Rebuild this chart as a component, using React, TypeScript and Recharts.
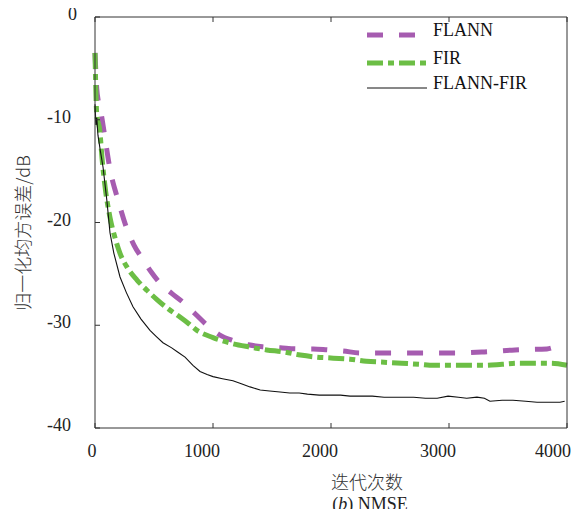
import { Line, LineChart, XAxis, YAxis } from "recharts";

const X_TICKS = [0, 1000, 2000, 3000, 4000];
const Y_TICKS = [-40, -30, -20, -10, 0];
const X_DOMAIN = [0, 4000];
const Y_DOMAIN = [-40, 0];

const FLANN_ITER = [
  0, 15, 30, 55, 85, 127, 195, 270, 330, 400, 475, 550, 650, 750, 850, 950,
  1050, 1170, 1300, 1420, 1570, 1710, 1850, 1975, 2100, 2250, 2500, 2770,
  3050, 3300, 3560, 3830, 3900,
];
const FLANN_DB = [
  -3.5, -7, -8.3, -9.6, -11.8, -14.8, -17.8, -20.6, -22.2, -23.5, -24.8,
  -25.9, -26.9, -27.8, -28.9, -30.0, -30.9, -31.5, -31.9, -32.1, -32.2, -32.3,
  -32.3, -32.4, -32.5, -32.7, -32.7, -32.7, -32.7, -32.6, -32.4, -32.3, -32.1,
];

const FIR_ITER = [
  0, 15, 40, 60, 85, 127, 170, 212, 280, 356, 440, 525, 620, 720, 800, 864,
  1000, 1170, 1300, 1455, 1600, 1740, 1880, 2020, 2160, 2300, 2450, 2600,
  2750, 2870, 3000, 3150, 3300, 3450, 3580, 3720, 3860, 4000,
];
const FIR_DB = [
  -3.5, -9.5, -11, -13.8, -16.5, -19.5, -21.5, -23, -24.5, -25.6, -26.6,
  -27.5, -28.4, -29.2, -29.9, -30.5, -31.2, -31.8, -32.1, -32.4, -32.6, -32.9,
  -33.1, -33.2, -33.3, -33.5, -33.6, -33.7, -33.8, -33.9, -33.9, -33.9, -33.9,
  -33.8, -33.7, -33.7, -33.7, -33.9,
];

const HYBRID_ITER = [
  0, 8, 15, 25, 45, 68, 100, 127, 160, 212, 265, 322, 390, 466, 520, 576, 650,
  700, 763, 830, 890, 950, 1000, 1080, 1169, 1240, 1314, 1400, 1480, 1568,
  1650, 1730, 1800, 1900, 1992, 2080, 2161, 2250, 2350, 2450, 2585, 2700,
  2800, 2900, 2992, 3080, 3150, 3237, 3300, 3347, 3450, 3542, 3650, 3746,
  3850, 3941, 3980,
];
const HYBRID_DB = [
  -8.5, -10.5, -9.8, -11.5, -13, -14.6, -17.8, -21, -23, -25.3, -26.8, -28.2,
  -29.4, -30.5, -31.1, -31.7, -32.2, -32.6, -33.1, -33.9, -34.5, -34.8, -35.0,
  -35.2, -35.4, -35.7, -36.0, -36.3, -36.4, -36.5, -36.6, -36.6, -36.7, -36.8,
  -36.8, -36.8, -36.9, -36.9, -36.9, -37.0, -37.0, -37.0, -37.1, -37.1, -36.9,
  -37.0, -37.1, -37.0, -37.1, -37.4, -37.3, -37.3, -37.4, -37.5, -37.5, -37.5,
  -37.4,
];

// one table keyed by iteration, gaps bridged with connectNulls
function buildTable() {
  const rows = new Map<number, any>();
  const add = (xs: number[], ys: number[], key: string) =>
    xs.forEach((x, i) => {
      const row = rows.get(x) || { x };
      row[key] = ys[i];
      rows.set(x, row);
    });
  add(FLANN_ITER, FLANN_DB, "flann");
  add(FIR_ITER, FIR_DB, "fir");
  add(HYBRID_ITER, HYBRID_DB, "hybrid");
  return [...rows.values()].sort((a, b) => a.x - b.x);
}

const PURPLE = "#A65CB0";
const GREEN = "#6CBE45";
const DARK = "#111";
const AXIS = "#333";
const SERIF = "'Liberation Serif', 'Times New Roman', serif";
const CJK = "'Noto Sans CJK SC', sans-serif";

const FLANN_DASH = "16 16";
const FIR_DASH = "16 5 6 5";

const W = 580;
const H = 517;

function XTick({ x, y, payload }: any) {
  const dx = payload.value === 0 ? -3 : -11;
  return (
    <text x={x + dx} y={y + 17} textAnchor="middle" fontFamily={SERIF} fontSize={18} fill="#222">
      {payload.value}
    </text>
  );
}

function YTick({ x, y, payload }: any) {
  const dx = payload.value === 0 ? 6 : 0;
  return (
    <text x={x + dx} y={y + 3} textAnchor="end" fontFamily={SERIF} fontSize={18} fill="#222">
      {payload.value}
    </text>
  );
}

// keeps tick marks on the mirrored top/right axes but draws no label
function NoLabel() {
  return <g />;
}

const legendItems = [
  { name: "FLANN", color: PURPLE, width: 5, dash: FLANN_DASH, y: 35 },
  { name: "FIR", color: GREEN, width: 5, dash: FIR_DASH, y: 63 },
  { name: "FLANN-FIR", color: DARK, width: 1, dash: undefined, y: 88 },
];

export default function App() {
  const data = buildTable();

  return (
    <div style={{ margin: -8, width: W, height: H, position: "relative" }}>
      <LineChart
        width={W}
        height={H}
        data={data}
        margin={{ top: 17, right: 13, bottom: 59, left: 35 }}
      >
        <XAxis
          dataKey="x"
          type="number"
          domain={X_DOMAIN}
          ticks={X_TICKS}
          height={30}
          tickSize={-5}
          tickMargin={17}
          tick={<XTick />}
          stroke={AXIS}
        />
        <XAxis
          xAxisId="top"
          orientation="top"
          dataKey="x"
          type="number"
          domain={X_DOMAIN}
          ticks={X_TICKS}
          mirror
          tickSize={5}
          tick={<NoLabel />}
          stroke={AXIS}
        />
        <YAxis
          type="number"
          domain={Y_DOMAIN}
          ticks={Y_TICKS}
          width={60}
          tickSize={-5}
          tickMargin={29}
          tick={<YTick />}
          stroke={AXIS}
        />
        <YAxis
          yAxisId="right"
          orientation="right"
          type="number"
          domain={Y_DOMAIN}
          ticks={Y_TICKS}
          mirror
          tickSize={5}
          tick={<NoLabel />}
          stroke={AXIS}
        />
        <Line
          dataKey="flann"
          type="monotone"
          stroke={PURPLE}
          strokeWidth={5}
          strokeDasharray={FLANN_DASH}
          dot={false}
          connectNulls
          isAnimationActive={false}
        />
        <Line
          dataKey="fir"
          type="monotone"
          stroke={GREEN}
          strokeWidth={5}
          strokeDasharray={FIR_DASH}
          dot={false}
          connectNulls
          isAnimationActive={false}
        />
        <Line
          dataKey="hybrid"
          type="linear"
          stroke={DARK}
          strokeWidth={1.1}
          dot={false}
          connectNulls
          isAnimationActive={false}
        />
      </LineChart>

      <svg
        width={W}
        height={H}
        style={{ position: "absolute", left: 0, top: 0, pointerEvents: "none" }}
      >
        {legendItems.map((item) => (
          <g key={item.name}>
            <line
              x1={367}
              x2={427}
              y1={item.y}
              y2={item.y}
              stroke={item.color}
              strokeWidth={item.width}
              strokeDasharray={item.dash}
            />
            <text x={433} y={item.y + 1} fontFamily={SERIF} fontSize={18} fill="#111">
              {item.name}
            </text>
          </g>
        ))}
        <text
          x={22}
          y={233}
          transform="rotate(-90 22 233)"
          textAnchor="middle"
          dominantBaseline="central"
          fontFamily={CJK}
          fontSize={18}
          fontWeight={300}
          fill="#333"
        >
          归一化均方误差/dB
        </text>
        <text
          x={367}
          y={489}
          textAnchor="middle"
          fontFamily={CJK}
          fontSize={18}
          fontWeight={300}
          fill="#333"
        >
          迭代次数
        </text>
        <text x={370} y={510} textAnchor="middle" fontFamily={SERIF} fontSize={18} fill="#222">
          (<tspan fontStyle="italic">b</tspan>) NMSE
        </text>
      </svg>
    </div>
  );
}
